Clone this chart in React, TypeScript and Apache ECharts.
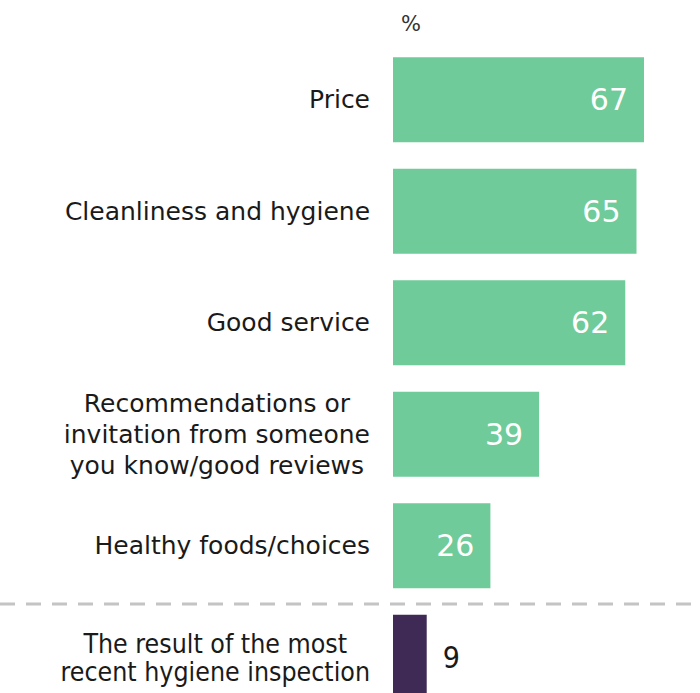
import React, { useEffect, useRef } from "react";
import * as echarts from "echarts";

const categories = [
  "Price",
  "Cleanliness and hygiene",
  "Good service",
  "Recommendations or\ninvitation from someone\nyou know/good reviews",
  "Healthy foods/choices",
  "The result of the most\nrecent hygiene inspection",
];
const values = [67, 65, 62, 39, 26, 9];
const highlightIndex = 5;
const unitLabel = "%";

const GREEN = "#6fcb99";
const PURPLE = "#3f2a56";

export default function App() {
  const ref = useRef<HTMLDivElement>(null);
  useEffect(() => {
    document.body.style.margin = "0";
    document.body.style.overflow = "hidden";
    const chart = echarts.init(ref.current!, null, { renderer: "svg" });
    chart.setOption({
      animation: false,
      backgroundColor: "#ffffff",
      grid: { left: 393, top: 44, right: 7.3, bottom: 0 },
      xAxis: {
        type: "value",
        min: 0,
        max: 80,
        show: false,
      },
      yAxis: {
        type: "category",
        inverse: true,
        data: categories,
        axisLine: { show: false },
        axisTick: { show: false },
        splitLine: { show: false },
        axisLabel: {
          margin: 23,
          align: "right",
          color: "#1a1a1a",
          fontFamily: "DejaVu Sans",
          fontSize: 25,
          lineHeight: 31,
          formatter: (v: string, i: number) => {
            const key = i === highlightIndex ? "c" : "m";
            return v
              .split("\n")
              .map((l) => `{${key}|${l}}`)
              .join("\n");
          },
          rich: {
            m: {
              fontFamily: "DejaVu Sans",
              fontSize: 25,
              lineHeight: 31,
              color: "#1a1a1a",
              align: "center",
            },
            c: {
              fontFamily: "DejaVu Sans Condensed",
              fontSize: 26.5,
              lineHeight: 28,
              color: "#1a1a1a",
              align: "center",
            },
          },
        },
      },
      series: [
        {
          type: "bar",
          barWidth: 85,
          data: values.map((v, i) => ({
            value: v,
            itemStyle: { color: i === highlightIndex ? PURPLE : GREEN },
            label:
              i === highlightIndex
                ? {
                    show: true,
                    position: "right",
                    distance: 16,
                    color: "#1a1a1a",
                    fontSize: 30,
                    fontFamily: "DejaVu Sans Condensed",
                  }
                : {
                    show: true,
                    position: "insideRight",
                    distance: 16,
                    color: "#ffffff",
                    fontSize: 30,
                    fontFamily: "DejaVu Sans",
                  },
          })),
        },
      ],
      graphic: [
        {
          type: "line",
          shape: { x1: 0, y1: 604, x2: 700, y2: 604 },
          style: { stroke: "#c4c4c4", lineWidth: 3, lineDash: [15, 11] },
        },
        {
          type: "text",
          x: 401,
          y: 13,
          style: {
            text: unitLabel,
            fontFamily: "DejaVu Sans",
            fontSize: 21,
            fill: "#333333",
          },
        },
      ],
    });
    return () => chart.dispose();
  }, []);
  return <div ref={ref} style={{ width: 700, height: 713 }} />;
}
